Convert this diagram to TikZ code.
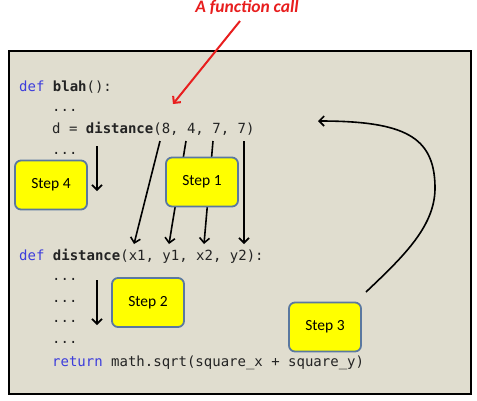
\documentclass[tikz,border=0pt]{standalone}
\usepackage{fontspec}
\setmainfont{Carlito}
\newfontfamily\codefont{DejaVu Sans Mono}
\usetikzlibrary{arrows.meta}
\definecolor{bgc}{RGB}{224,221,207}
\definecolor{kw}{RGB}{60,60,220}
\definecolor{codec}{RGB}{35,35,35}
\definecolor{titlered}{RGB}{232,30,30}
\definecolor{stepborder}{RGB}{90,120,160}
\definecolor{stepfill}{RGB}{255,255,0}
\tikzset{
  code/.style={anchor=base west, inner sep=0pt, text=codec, font=\codefont\fontsize{14}{16}\selectfont},
  stepbox/.style={draw=stepborder, fill=stepfill, line width=1.8pt, rounded corners=6pt,
     minimum width=72pt, minimum height=49pt, inner sep=0pt, font=\fontsize{15.5}{18}\selectfont},
  flow/.style={line width=1.6pt, -{Straight Barb[length=5pt,width=10pt,line width=1.6pt]}},
  callarrow/.style={draw=titlered, line width=2pt, -{Straight Barb[length=5pt,width=10pt,line width=2pt]}},
}
\begin{document}
\begin{tikzpicture}[x=1pt,y=-1pt]
\useasboundingbox (0,0) rectangle (477,400);
\fill[white] (0,0) rectangle (477,400);
% frame
\draw[fill=bgc, line width=2pt] (9,51) rectangle (471,394);
% title
\node[anchor=base, inner sep=0pt, text=titlered, font=\bfseries\itshape\fontsize{17.5}{20}\selectfont] (title) at (247,12.5) {A function call};
\coordinate (callstart) at (240,21);
\coordinate (calltip) at (173,104);
\draw[callarrow] (callstart) -- (calltip);
% code block 1
\node[code] (c1) at (19,91) {\textcolor{kw}{def} \textbf{blah}():};
\node[code] (c2) at (52,111) {...};
\node[code] (c3) at (52,133) {d = \textbf{distance}(8, 4, 7, 7)};
\node[code] (c4) at (52,154) {...};
% code block 2
\node[code] (c5) at (19,260) {\textcolor{kw}{def} \textbf{distance}(x1, y1, x2, y2):};
\node[code] (c6) at (52,280) {...};
\node[code] (c7) at (52,302) {...};
\node[code] (c8) at (52,322) {...};
\node[code] (c9) at (52,343) {...};
\node[code] (c10) at (52,366) {\textcolor{kw}{return} math.sqrt(square\_x + square\_y)};
% argument arrows
\coordinate (a1s) at (160,141); \coordinate (a1e) at (134,244);
\coordinate (a2s) at (186,141); \coordinate (a2e) at (169,244);
\coordinate (a3s) at (213,141); \coordinate (a3e) at (204,244);
\coordinate (a4s) at (244,141); \coordinate (a4e) at (244,244);
\draw[flow] (a1s) -- (a1e);
\draw[flow] (a2s) -- (a2e);
\draw[flow] (a3s) -- (a3e);
\draw[flow] (a4s) -- (a4e);
% step arrows
\coordinate (s4s) at (97,146); \coordinate (s4e) at (97,191);
\coordinate (s2s) at (97,280); \coordinate (s2e) at (97,325);
\draw[flow] (s4s) -- (s4e);
\draw[flow] (s2s) -- (s2e);
% return arrow
\coordinate (rs) at (366,292);
\coordinate (rm) at (435,186);
\coordinate (re) at (318,121);
\draw[flow] (rs) .. controls (405,255) and (436,225) .. (rm) .. controls (434,137) and (405,121) .. (re);
% step boxes
\node[stepbox] (step4) at (51,185) {Step 4};
\node[stepbox] (step1) at (202,182) {Step 1};
\node[stepbox] (step2) at (148,302.5) {Step 2};
\node[stepbox] (step3) at (325,327) {Step 3};
\end{tikzpicture}
\end{document}
